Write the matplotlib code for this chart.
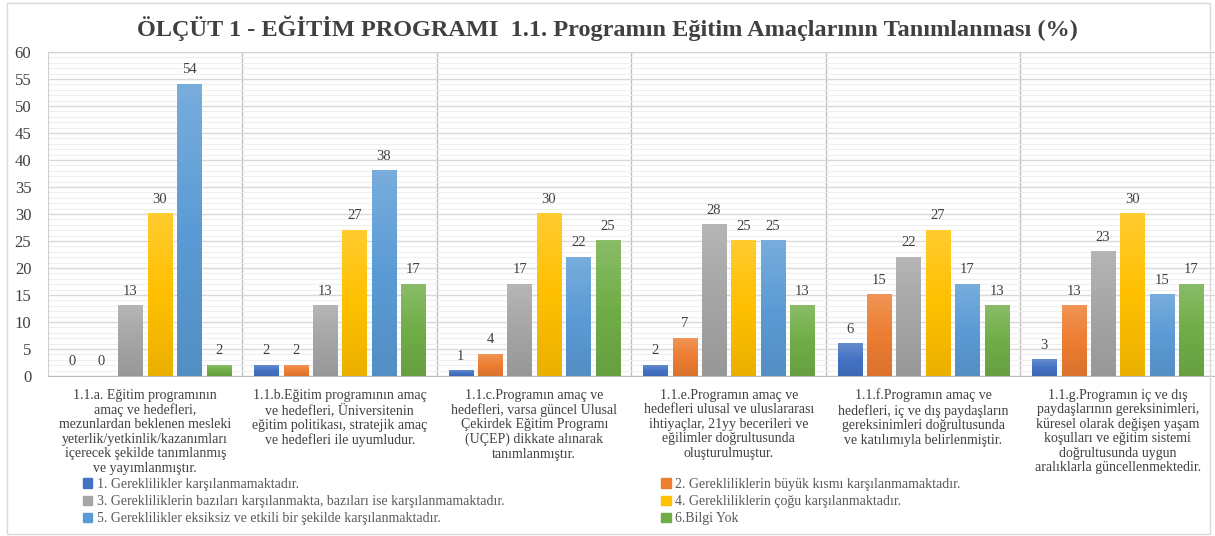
import numpy as np
import matplotlib
matplotlib.use('Agg')
import matplotlib.pyplot as plt
from matplotlib.patches import Patch, Rectangle
from matplotlib.colors import LinearSegmentedColormap, to_rgb
from matplotlib.ticker import MultipleLocator

plt.rcParams['font.family'] = ['Liberation Serif', 'DejaVu Serif']

# Data
categories = [
    "1.1.a. Eğitim programının\namaç ve hedefleri,\nmezunlardan beklenen mesleki\nyeterlik/yetkinlik/kazanımları\niçerecek şekilde tanımlanmış\nve yayımlanmıştır.",
    "1.1.b.Eğitim programının amaç\nve hedefleri, Üniversitenin\neğitim politikası, stratejik amaç\nve hedefleri ile uyumludur.",
    "1.1.c.Programın amaç ve\nhedefleri, varsa güncel Ulusal\nÇekirdek Eğitim Programı\n(UÇEP) dikkate alınarak\ntanımlanmıştır.",
    "1.1.e.Programın amaç ve\nhedefleri ulusal ve uluslararası\nihtiyaçlar, 21yy becerileri ve\neğilimler doğrultusunda\noluşturulmuştur.",
    "1.1.f.Programın amaç ve\nhedefleri, iç ve dış paydaşların\ngereksinimleri doğrultusunda\nve katılımıyla belirlenmiştir.",
    "1.1.g.Programın iç ve dış\npaydaşlarının gereksinimleri,\nküresel olarak değişen yaşam\nkoşulları ve eğitim sistemi\ndoğrultusunda uygun\naralıklarla güncellenmektedir.",
]
series_names = [
    "1. Gereklilikler karşılanmamaktadır.",
    "2. Gerekliliklerin büyük kısmı karşılanmamaktadır.",
    "3. Gerekliliklerin bazıları karşılanmakta, bazıları ise karşılanmamaktadır.",
    "4. Gerekliliklerin çoğu karşılanmaktadır.",
    "5. Gereklilikler eksiksiz ve etkili bir şekilde karşılanmaktadır.",
    "6.Bilgi Yok",
]
s1 = [0, 2, 1, 2, 6, 3]
s2 = [0, 2, 4, 7, 15, 13]
s3 = [13, 13, 17, 28, 22, 23]
s4 = [30, 27, 30, 25, 27, 30]
s5 = [54, 38, 22, 25, 17, 15]
s6 = [2, 17, 25, 13, 13, 17]
series = [s1, s2, s3, s4, s5, s6]
colors = ['#4472C4', '#ED7D31', '#A5A5A5', '#FFC000', '#5B9BD5', '#70AD47']


def shade(c, f):
    # f>0 lighten toward white, f<0 darken toward black
    r = np.array(to_rgb(c))
    return tuple(r + (1 - r) * f) if f > 0 else tuple(r * (1 + f))


fig = plt.figure(figsize=(12.15, 5.36), dpi=100)
ax = fig.add_axes([0.0395, 0.2985, 0.9605, 0.6045])

x = np.arange(len(categories))
step = 0.151
width = 0.125
grad = np.linspace(0, 1, 64).reshape(-1, 1)
for i, vals in enumerate(series):
    cmap = LinearSegmentedColormap.from_list(
        'g%d' % i, [shade(colors[i], -0.08), colors[i], shade(colors[i], 0.18)])
    pos = x + (i - 2.5) * step
    bars = ax.bar(pos, vals, width, color=colors[i], zorder=3)
    # vertical gradient fill like the original
    for b in bars:
        if b.get_height() > 0:
            ax.imshow(grad, cmap=cmap, aspect='auto', origin='lower', zorder=3.5,
                      extent=(b.get_x(), b.get_x() + b.get_width(), 0, b.get_height()))
    for xp, v in zip(pos, vals):
        ax.text(xp, v + 1.5, str(v), ha='center', va='bottom',
                fontsize=10.5, color='#404040', zorder=4)

ax.set_xlim(-0.5, 5.5)
ax.set_ylim(0, 60)
ax.yaxis.set_major_locator(MultipleLocator(5))
ax.yaxis.set_minor_locator(MultipleLocator(1))
ax.grid(axis='y', which='major', color='#d9d9d9', lw=1.0, zorder=0)
ax.grid(axis='y', which='minor', color='#efefef', lw=0.8, zorder=0)
for b in np.arange(0.5, 5.5, 1):
    ax.axvline(b, color='#bfbfbf', lw=1, zorder=1)
for s in ax.spines.values():
    s.set_color('#d0d0d0')
ax.spines['bottom'].set_color('#bfbfbf')

ax.set_xticks(x)
ax.set_xticklabels(categories, fontsize=10, color='#404040', linespacing=1.15)
ax.tick_params(axis='x', length=0, pad=9)
ax.tick_params(axis='y', which='both', length=0, labelsize=12, labelcolor='#404040', pad=12)

fig.text(0.5, 0.948, "ÖLÇÜT 1 - EĞİTİM PROGRAMI  1.1. Programın Eğitim Amaçlarının Tanımlanması (%)",
         ha='center', va='center', fontsize=17.5, fontweight='bold', color='#404040')

order = [0, 2, 4, 1, 3, 5]
handles = [Patch(color=colors[i], label=series_names[i]) for i in order]
leg = fig.legend(handles=handles, ncol=2, loc='upper left',
                 bbox_to_anchor=(0.068, 0.108), frameon=False,
                 fontsize=10, handlelength=0.7, handleheight=0.7,
                 handletextpad=0.3, columnspacing=11.3, labelspacing=0.3,
                 borderaxespad=0, borderpad=0)
for t in leg.get_texts():
    t.set_color('#595959')

fig.patches.append(Rectangle((0.006, 0.004), 0.99, 0.99, transform=fig.transFigure,
                             fill=False, edgecolor='#d9d9d9', lw=1))

fig.savefig('out.png', dpi=100)
